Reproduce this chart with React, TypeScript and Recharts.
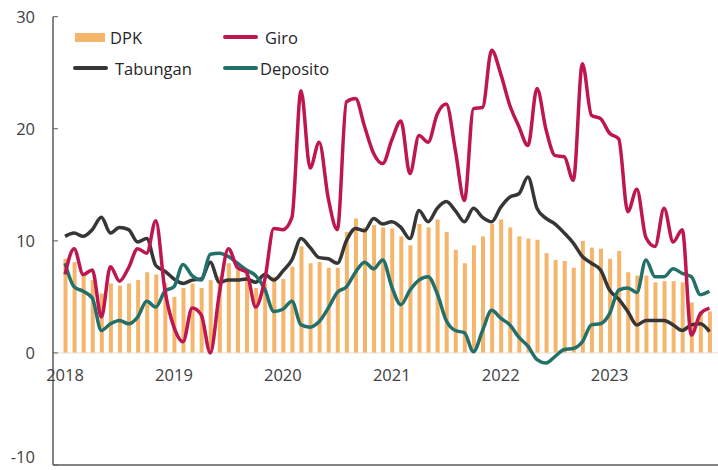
import { ComposedChart, Bar, Line, XAxis, YAxis, ReferenceLine } from 'recharts';

const years = ['2018', '2019', '2020', '2021', '2022', '2023'];
const monthCodes = ['01', '02', '03', '04', '05', '06', '07', '08', '09', '10', '11', '12'];
const categories = years.flatMap((y) => monthCodes.map((m) => `${y}-${m}`));
const yearTicks = years.map((y) => `${y}-01`);
const yTicks = [-10, 0, 10, 20, 30];

// pertumbuhan yoy (%), bulanan Jan 2018 - Des 2023
const dpk = [
  8.4, 8.1, 7.0, 6.5, 5.3, 6.2, 6.0, 6.2, 6.5, 7.2, 7.0, 6.2,
  5.0, 5.8, 6.2, 5.8, 6.5, 6.8, 8.0, 7.4, 7.4, 5.8, 6.2, 6.8,
  6.6, 7.7, 9.5, 8.0, 8.1, 7.6, 7.6, 10.8, 12.0, 11.2, 11.4, 11.2,
  11.1, 10.4, 9.6, 11.5, 11.2, 11.9, 10.8, 9.2, 8.0, 9.6, 10.4, 11.5,
  11.9, 11.2, 10.4, 10.2, 10.1, 8.9, 8.3, 8.2, 7.6, 10.0, 9.4, 9.3,
  8.4, 9.1, 7.2, 6.9, 6.9, 6.3, 6.4, 6.4, 6.3, 4.5, 3.7, 3.7,
];
const giro = [
  7.0, 9.3, 7.0, 7.4, 3.2, 7.7, 6.4, 7.6, 9.3, 8.9, 11.8, 5.6,
  2.3, 1.0, 4.0, 3.4, 0.0, 5.3, 9.3, 7.6, 7.2, 4.1, 6.5, 11.1,
  11.0, 12.1, 23.4, 16.5, 18.8, 13.8, 11.0, 22.4, 22.7, 20.2, 17.8, 16.9,
  19.0, 20.7, 16.0, 19.4, 18.8, 21.3, 22.2, 18.1, 13.6, 21.8, 21.9, 27.0,
  24.9, 22.1, 20.2, 18.5, 23.6, 19.9, 17.6, 17.5, 15.4, 25.8, 21.2, 20.9,
  19.6, 19.1, 12.6, 14.6, 10.3, 9.5, 12.9, 9.9, 11.0, 1.6, 3.5, 4.0,
];
const tabungan = [
  10.4, 10.7, 10.4, 11.0, 12.1, 10.7, 11.2, 11.0, 9.9, 10.2, 7.8, 7.3,
  6.6, 6.2, 6.5, 6.6, 8.1, 6.3, 6.5, 6.5, 6.6, 6.3, 7.0, 6.5,
  7.3, 8.3, 10.2, 9.4, 8.5, 8.4, 8.0, 10.0, 11.1, 10.9, 12.0, 11.5,
  11.7, 11.2, 10.2, 12.7, 11.7, 12.9, 13.5, 12.7, 11.7, 12.9, 12.1, 11.7,
  13.0, 13.9, 14.2, 15.7, 12.9, 12.0, 11.5, 10.7, 9.8, 8.6, 8.0, 7.4,
  5.6, 4.8, 3.7, 2.5, 2.9, 2.9, 2.9, 2.5, 2.0, 2.5, 2.6, 1.9,
];
const deposito = [
  8.0, 5.9, 5.5, 4.9, 2.0, 2.6, 2.9, 2.6, 3.2, 4.6, 4.1, 5.5,
  5.9, 7.9, 6.9, 6.5, 8.8, 8.9, 8.6, 8.0, 7.4, 6.9, 5.7, 3.7,
  3.9, 4.6, 2.5, 2.3, 2.8, 4.0, 5.4, 5.9, 7.2, 8.1, 7.5, 8.3,
  5.9, 4.3, 5.6, 6.5, 6.8, 5.3, 2.9, 2.0, 1.8, 0.1, 2.0, 3.8,
  3.1, 2.5, 1.4, 0.6, -0.6, -0.9, -0.3, 0.3, 0.4, 1.0, 2.5, 2.6,
  3.5, 5.6, 5.8, 5.4, 8.3, 6.8, 6.8, 7.5, 7.1, 6.8, 5.2, 5.5,
];

const data = categories.map((month, i) => ({
  month,
  dpk: dpk[i],
  giro: giro[i],
  tabungan: tabungan[i],
  deposito: deposito[i],
}));

const COLORS = {
  dpk: '#F5B56B',
  giro: '#BE1650',
  tabungan: '#363636',
  deposito: '#23706B',
  frame: '#5a5a5a',
  text: '#404040',
};
const FONT = '"Open Sans", sans-serif';

function YTick({ x, y, payload }: any) {
  // label paling bawah dinaikkan supaya tidak terpotong tepi gambar
  const dy = payload.value === -10 ? -9 : 0;
  return (
    <g>
      <line x1={x + 18} x2={x + 23} y1={y} y2={y} stroke={COLORS.frame} strokeWidth={1} />
      <text x={x} y={y + dy} textAnchor="end" dominantBaseline="central" fontSize={16.5} fontFamily={FONT} fill={COLORS.text}>
        {payload.value}
      </text>
    </g>
  );
}

// label tahun digambar pada garis nol, bukan di bawah bingkai
function XTick({ x, y, payload }: any) {
  return (
    <text x={x} y={y - 91} textAnchor="middle" dominantBaseline="central" fontSize={16.5} fontFamily={FONT} fill={COLORS.text}>
      {String(payload.value).slice(0, 4)}
    </text>
  );
}

function LegendItem({ left, top, swatch, label, gap }: any) {
  return (
    <div style={{ position: 'absolute', left, top: top - 11, height: 22, display: 'flex', alignItems: 'center' }}>
      {swatch}
      <span style={{ marginLeft: gap, fontFamily: FONT, fontSize: 16.5, color: '#262626' }}>{label}</span>
    </div>
  );
}

const lineSwatch = (color: string) => (
  <div style={{ width: 35, height: 4, borderRadius: 2, background: color }} />
);

export default function App() {
  return (
    <div style={{ position: 'absolute', left: 0, top: 0, width: 718, height: 470, overflow: 'hidden', background: '#fff' }}>
      <ComposedChart width={732} height={500} data={data} margin={{ top: 16.7, right: 0, bottom: 5, left: 0 }}>
        <XAxis
          dataKey="month"
          ticks={yearTicks}
          interval={0}
          tick={<XTick />}
          tickLine={false}
          tickSize={0}
          tickMargin={0}
          height={30}
          axisLine={{ stroke: COLORS.frame, strokeWidth: 1.5 }}
          padding={{ left: 7.5, right: 18 }}
        />
        <XAxis
          xAxisId="top"
          orientation="top"
          dataKey="month"
          tick={false}
          tickLine={false}
          height={0}
          axisLine={{ stroke: COLORS.frame, strokeWidth: 1.5 }}
        />
        <YAxis
          domain={[-10, 30]}
          ticks={yTicks}
          interval={0}
          width={53}
          tickLine={false}
          tickSize={0}
          tickMargin={18}
          tick={<YTick />}
          axisLine={{ stroke: COLORS.frame, strokeWidth: 1.5 }}
        />
        <ReferenceLine y={0} stroke="#e8ddd0" strokeWidth={1} />
        <Bar dataKey="dpk" fill={COLORS.dpk} barSize={4} isAnimationActive={false} />
        <Line type="monotone" dataKey="tabungan" stroke={COLORS.tabungan} strokeWidth={3.5} dot={false} isAnimationActive={false} />
        <Line type="monotone" dataKey="deposito" stroke={COLORS.deposito} strokeWidth={3.5} dot={false} isAnimationActive={false} />
        <Line type="monotone" dataKey="giro" stroke={COLORS.giro} strokeWidth={3.5} dot={false} isAnimationActive={false} />
      </ComposedChart>

      <LegendItem left={75} top={37} gap={5} label="DPK" swatch={<div style={{ width: 30, height: 9, background: COLORS.dpk }} />} />
      <LegendItem left={223} top={37} gap={7} label="Giro" swatch={lineSwatch(COLORS.giro)} />
      <LegendItem left={73} top={68} gap={7} label="Tabungan" swatch={lineSwatch(COLORS.tabungan)} />
      <LegendItem left={223} top={68} gap={2} label="Deposito" swatch={lineSwatch(COLORS.deposito)} />
    </div>
  );
}
